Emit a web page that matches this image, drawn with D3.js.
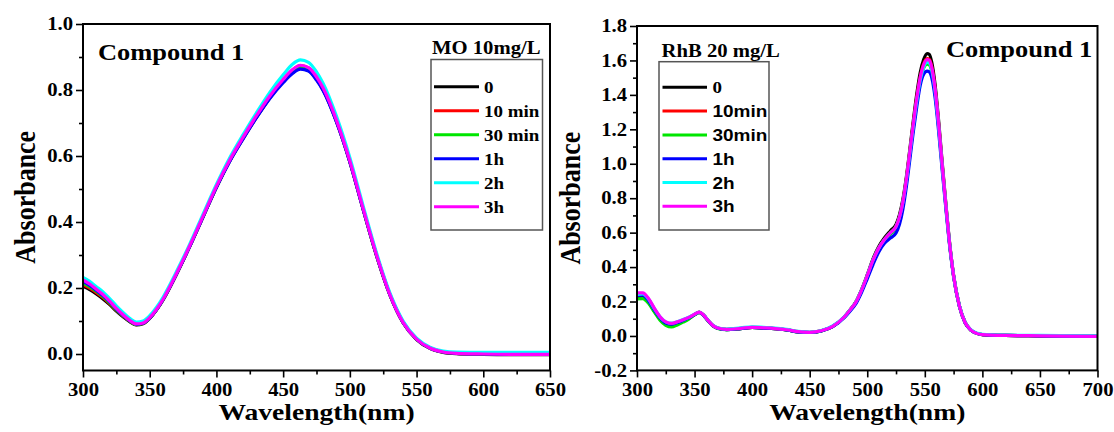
<!DOCTYPE html>
<html>
<head>
<meta charset="utf-8">
<script src="https://cdn.jsdelivr.net/npm/d3@7"></script>
<style>
  body { margin: 0; background: #fff; }
  svg text { font-family: "Liberation Serif", "Times New Roman", serif; font-weight: bold; fill: #000; }
</style>
</head>
<body>
<svg id="chart" width="1114" height="432"></svg>
<script>
// ---- data: MO 10mg/L (left panel)
var wlMO = [300,305,310,315,320,325,330,335,340,345,350,355,360,365,370,380,390,400,410,420,430,440,450,457,463,469,475,480,490,500,510,520,530,540,550,560,570,580,600,625,650];
var mo0  = [0.205,0.195,0.182,0.167,0.150,0.130,0.113,0.098,0.088,0.092,0.108,0.133,0.164,0.201,0.241,0.326,0.416,0.505,0.585,0.653,0.717,0.776,0.825,0.852,0.866,0.860,0.833,0.800,0.704,0.582,0.438,0.298,0.179,0.094,0.044,0.017,0.005,0.001,-0.001,-0.002,-0.002];
var mo10 = [0.210,0.200,0.186,0.171,0.153,0.133,0.115,0.100,0.089,0.093,0.109,0.134,0.165,0.202,0.242,0.327,0.417,0.507,0.587,0.656,0.721,0.780,0.830,0.860,0.874,0.867,0.839,0.805,0.707,0.584,0.439,0.299,0.180,0.095,0.045,0.018,0.006,0.002,0.000,-0.001,-0.001];
var mo30 = [0.215,0.204,0.190,0.174,0.155,0.134,0.116,0.100,0.089,0.093,0.109,0.134,0.165,0.202,0.242,0.327,0.417,0.506,0.586,0.655,0.720,0.779,0.828,0.857,0.870,0.864,0.837,0.803,0.706,0.584,0.439,0.299,0.180,0.095,0.045,0.018,0.006,0.002,0.000,-0.001,-0.001];
var mo1h = [0.220,0.208,0.193,0.177,0.158,0.136,0.117,0.101,0.090,0.093,0.109,0.134,0.165,0.202,0.242,0.326,0.416,0.505,0.584,0.652,0.716,0.774,0.822,0.850,0.863,0.857,0.830,0.798,0.703,0.582,0.438,0.299,0.180,0.095,0.045,0.018,0.006,0.002,0.000,-0.001,-0.001];
var mo2h = [0.232,0.220,0.204,0.188,0.168,0.146,0.126,0.108,0.097,0.100,0.116,0.141,0.172,0.209,0.249,0.333,0.424,0.514,0.595,0.665,0.731,0.793,0.846,0.878,0.891,0.884,0.855,0.820,0.720,0.595,0.448,0.306,0.185,0.099,0.048,0.021,0.009,0.006,0.005,0.005,0.005];
var mo3h = [0.225,0.212,0.196,0.180,0.160,0.138,0.119,0.102,0.091,0.094,0.110,0.135,0.166,0.203,0.243,0.328,0.418,0.508,0.588,0.657,0.722,0.782,0.832,0.862,0.875,0.868,0.840,0.806,0.708,0.585,0.440,0.300,0.180,0.095,0.045,0.018,0.006,0.002,0.000,-0.001,-0.001];
var labelsMO = ["0", "10 min", "30 min", "1h", "2h", "3h"];
var xTicksMO = [300,350,400,450,500,550,600,650];
var xMinorMO = [325,375,425,475,525,575,625];
var yTicksMO = [0,0.2,0.4,0.6,0.8,1.0];
var yMinorMO = [0.1,0.3,0.5,0.7,0.9];

// ---- data: RhB 20 mg/L (right panel)
var wlRhB = [300,305,310,315,320,325,330,335,340,345,350,354,358,362,366,370,378,390,400,410,420,430,440,450,460,470,480,485,490,495,500,505,510,515,520,525,528,531,534,537,540,543,546,549,552,554,556,559,562,565,568,571,575,580,585,590,595,600,620,650,700];
var rhb0  = [0.222,0.224,0.196,0.145,0.098,0.068,0.060,0.070,0.085,0.102, 0.124,0.137,0.119,0.087,0.059,0.045, 0.037,0.043,0.049,0.046,0.042,0.035,0.024,0.020,0.029,0.055, 0.110,0.151,0.197,0.268,0.355,0.448,0.520,0.570,0.610,0.648, 0.705,0.795,0.925,1.085,1.250,1.405,1.530,1.605,1.640,1.635, 1.590,1.455,1.250,1.015,0.790,0.575,0.352,0.176,0.078,0.034, 0.015,0.008,0.003,0.001,-0.002];
var rhb10 = [0.238,0.240,0.210,0.156,0.107,0.077,0.069,0.079,0.092,0.106, 0.125,0.138,0.120,0.088,0.060,0.046, 0.038,0.044,0.050,0.047,0.043,0.036,0.025,0.021,0.030,0.056, 0.110,0.150,0.195,0.265,0.350,0.441,0.512,0.562,0.600,0.637, 0.692,0.782,0.912,1.072,1.232,1.383,1.503,1.580,1.610,1.605, 1.565,1.433,1.232,1.001,0.780,0.570,0.350,0.175,0.078,0.034, 0.015,0.008,0.003,0.001,-0.002];
var rhb30 = [0.215,0.217,0.190,0.140,0.092,0.062,0.052,0.064,0.080,0.098, 0.122,0.136,0.118,0.086,0.058,0.044, 0.037,0.043,0.049,0.046,0.042,0.035,0.024,0.020,0.029,0.055, 0.109,0.149,0.194,0.263,0.347,0.436,0.505,0.554,0.590,0.626, 0.680,0.770,0.900,1.058,1.215,1.362,1.480,1.555,1.578,1.573, 1.535,1.410,1.215,0.990,0.773,0.566,0.348,0.174,0.078,0.034, 0.015,0.008,0.003,0.001,-0.002];
var rhb1h = [0.235,0.237,0.205,0.152,0.104,0.075,0.068,0.078,0.091,0.105, 0.124,0.137,0.119,0.087,0.059,0.045, 0.037,0.043,0.049,0.046,0.042,0.035,0.024,0.020,0.029,0.054, 0.106,0.144,0.186,0.252,0.332,0.415,0.488,0.538,0.568,0.598, 0.648,0.738,0.868,1.025,1.185,1.330,1.455,1.520,1.538,1.533, 1.500,1.380,1.190,0.970,0.760,0.558,0.345,0.173,0.077,0.034, 0.015,0.008,0.003,0.001,-0.002];
var rhb2h = [0.242,0.244,0.214,0.160,0.111,0.082,0.074,0.083,0.095,0.109, 0.127,0.139,0.121,0.089,0.062,0.048, 0.040,0.047,0.053,0.050,0.046,0.038,0.027,0.023,0.032,0.058, 0.111,0.151,0.196,0.266,0.351,0.440,0.510,0.560,0.598,0.635, 0.690,0.778,0.905,1.062,1.220,1.365,1.485,1.560,1.590,1.585, 1.545,1.418,1.222,0.995,0.778,0.570,0.351,0.177,0.080,0.036, 0.017,0.010,0.005,0.003,0.001];
var rhb3h = [0.250,0.250,0.218,0.162,0.112,0.082,0.073,0.082,0.094,0.108, 0.126,0.138,0.120,0.088,0.060,0.046, 0.038,0.044,0.050,0.047,0.043,0.036,0.025,0.021,0.030,0.056, 0.110,0.150,0.195,0.265,0.350,0.440,0.510,0.560,0.598,0.635, 0.690,0.780,0.910,1.070,1.230,1.380,1.500,1.575,1.605,1.600, 1.560,1.430,1.230,1.000,0.780,0.570,0.350,0.175,0.078,0.034, 0.015,0.008,0.003,0.001,-0.002];
var labelsRhB = ["0", "10min", "30min", "1h", "2h", "3h"];
var xTicksRhB = [300,350,400,450,500,550,600,650,700];
var xMinorRhB = [325,375,425,475,525,575,625,675];
var yTicksRhB = [-0.2,0,0.2,0.4,0.6,0.8,1.0,1.2,1.4,1.6,1.8];
var yMinorRhB = [-0.1,0.1,0.3,0.5,0.7,0.9,1.1,1.3,1.5,1.7];

var seriesColors = ["#000000", "#ff0000", "#00e600", "#0000ff", "#00ffff", "#ff00ff"];

// the figure is a bit stretched sideways, so text gets the same stretch
var SX = 1.15;
var svg = d3.select('#chart');

var stext = function(g, x, y, str, size, anchor, family) {
  var t = g.append('text')
    .attr('transform', 'translate(' + x + ',' + y + ') scale(' + SX + ',1)')
    .attr('text-anchor', anchor || 'start')
    .style('font-size', size + 'px')
    .text(str);
  if (family) t.style('font-family', family);
  return t;
}

var drawPanel = function(p) {
  var g = svg.append('g');
  var x = d3.scaleLinear().domain(p.xDomain).range([p.left, p.right]);
  var y = d3.scaleLinear().domain(p.yDomain).range([p.bottom, p.top]);

  // minor ticks
  g.append('g').attr('transform', 'translate(0,' + p.bottom + ')')
    .call(d3.axisBottom(x).tickValues(p.xMinor).tickSize(4).tickFormat(''));
  g.append('g').attr('transform', 'translate(' + p.left + ',0)')
    .call(d3.axisLeft(y).tickValues(p.yMinor).tickSize(4).tickFormat(''));

  // major ticks + labels
  var xa = g.append('g').attr('transform', 'translate(0,' + p.bottom + ')')
    .call(d3.axisBottom(x).tickValues(p.xTicks).tickSize(7).tickPadding(6).tickFormat(d3.format('d')));
  var ya = g.append('g').attr('transform', 'translate(' + p.left + ',0)')
    .call(d3.axisLeft(y).tickValues(p.yTicks).tickSize(7).tickFormat(function(d) { return d.toFixed(1); }));

  g.selectAll('.domain').remove();
  g.selectAll('.tick line').attr('stroke', '#000').attr('stroke-width', 1.6);
  [xa, ya].forEach(function(a) {
    a.attr('font-family', null).attr('font-size', null);
    a.selectAll('text')
      .style('font-size', '18px')
      .attr('transform', 'scale(' + SX + ',1)');
  });
  ya.selectAll('text').attr('x', -10 / SX);

  // curves
  var line = d3.line()
    .x(function(d) { return x(d[0]); })
    .y(function(d) { return y(d[1]); })
    .curve(d3.curveMonotoneX);

  p.series.forEach(function(vals, i) {
    var pts = p.wl.map(function(w, j) { return [w, vals[j]]; });
    g.append('path')
      .attr('d', line(pts))
      .attr('fill', 'none')
      .attr('stroke', seriesColors[i])
      .attr('stroke-width', 3.2)
      .attr('stroke-linejoin', 'round');
  });

  // frame
  g.append('rect')
    .attr('x', p.left).attr('y', p.top)
    .attr('width', p.right - p.left).attr('height', p.bottom - p.top)
    .attr('fill', 'none').attr('stroke', '#000').attr('stroke-width', 2);

  // axis titles
  stext(g, (p.left + p.right) / 2, 420, 'Wavelength(nm)', 24, 'middle');
  g.append('text')
    .attr('transform', 'translate(' + p.yTitleX + ',' + ((p.top + p.bottom) / 2) + ') rotate(-90) scale(1,' + SX + ')')
    .attr('text-anchor', 'middle')
    .style('font-size', '26px')
    .text('Absorbance');

  stext(g, p.compX, p.compY, 'Compound 1', 23, 'start');

  // legend
  var L = p.legend;
  stext(g, L.titleX, L.titleY, L.title, 18, 'start');
  g.append('rect')
    .attr('x', L.x).attr('y', L.y).attr('width', L.w).attr('height', L.h)
    .attr('fill', 'none').attr('stroke', '#555').attr('stroke-width', 1.5);
  p.labels.forEach(function(lab, i) {
    var ly = L.row0 + i * L.step;
    g.append('line')
      .attr('x1', L.lineX0).attr('x2', L.lineX1)
      .attr('y1', ly).attr('y2', ly)
      .attr('stroke', seriesColors[i]).attr('stroke-width', 3);
    var fam = (p.sansLabels && lab !== '0') ? '"Liberation Sans", Arial, sans-serif' : null;
    stext(g, L.textX, ly + 6, lab, 16.5, 'start', fam);
  });
}

drawPanel({
  left: 83, right: 550, top: 24, bottom: 370.5,
  xDomain: [300, 650], yDomain: [-0.05, 1.0],
  xTicks: xTicksMO, xMinor: xMinorMO, yTicks: yTicksMO, yMinor: yMinorMO,
  wl: wlMO, series: [mo0, mo10, mo30, mo1h, mo2h, mo3h], labels: labelsMO,
  yTitleX: 35, compX: 98, compY: 60,
  legend: { title: 'MO 10mg/L', titleX: 432, titleY: 54, x: 431, y: 59.5, w: 111.5, h: 170.5,
            lineX0: 434, lineX1: 479, textX: 484, row0: 86.7, step: 24 }
});

drawPanel({
  left: 637, right: 1097.5, top: 26, bottom: 370.4,
  xDomain: [300, 700], yDomain: [-0.2, 1.8],
  xTicks: xTicksRhB, xMinor: xMinorRhB, yTicks: yTicksRhB, yMinor: yMinorRhB,
  wl: wlRhB, series: [rhb0, rhb10, rhb30, rhb1h, rhb2h, rhb3h], labels: labelsRhB,
  sansLabels: true,
  yTitleX: 580, compX: 946, compY: 57,
  legend: { title: 'RhB 20 mg/L', titleX: 661.5, titleY: 56.5, x: 659, y: 61.7, w: 110, h: 168.3,
            lineX0: 662.5, lineX1: 707, textX: 712.5, row0: 87.3, step: 23.8 }
});
</script>
</body>
</html>
